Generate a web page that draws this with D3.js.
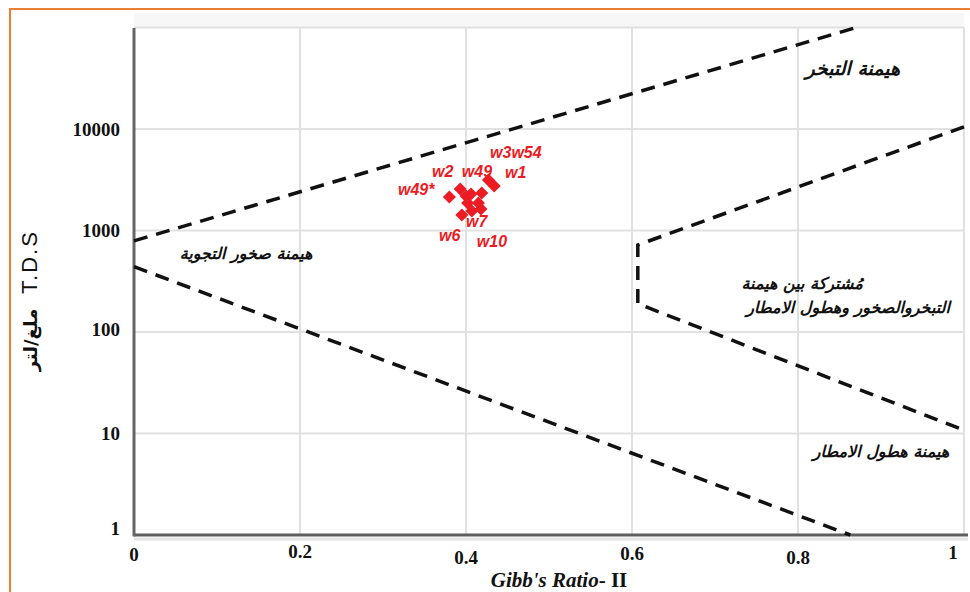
<!DOCTYPE html>
<html><head><meta charset="utf-8">
<script src="https://cdn.jsdelivr.net/npm/d3@7"></script>
<style>body{margin:0;background:#fff}svg{display:block}</style>
</head><body><svg id="c" width="970" height="592"></svg>
<script>
// ---- data ----
const xTicks = [0, 0.2, 0.4, 0.6, 0.8, 1];
const xTickLabels = ["0", "0.2", "0.4", "0.6", "0.8", "1"];
const yTicks = [1, 10, 100, 1000, 10000];
const yTickLabels = ["1", "10", "100", "1000", "10000"];

// Gibbs ratio II and TDS (mg/L) of the samples
const sampleRatio = [0.380, 0.393, 0.400, 0.406, 0.419, 0.427, 0.434, 0.402, 0.415, 0.395, 0.407, 0.418];
const sampleTDS   = [2140, 2560, 2190, 2290, 2340, 3150, 2740, 1870, 1870, 1420, 1560, 1630];

const pointLabels = ["w3w54", "w2", "w49", "w1", "w49*", "w7", "w6", "w10"];
const labelRatio  = [0.429, 0.359, 0.395, 0.447, 0.318, 0.400, 0.3675, 0.413];
const labelTDS    = [5180, 3370, 3370, 3290, 2240, 1082, 788, 687];

// Gibbs boundary curves [ratio, TDS]
const upperBoundary = [[0, 790], [0.87, 100000]];
const lowerBoundary = [[0, 440], [0.863, 1]];
const rightBoundary = [[1, 10500], [0.607, 720], [0.607, 190], [1, 10.8]];

const zoneLines = [["هيمنة التبخر"], ["هيمنة صخور التجوية"], ["مُشتركة بين هيمنة", "التبخروالصخور وهطول الامطار"], ["هيمنة هطول الامطار"]];
const zoneRatio = [0.866, 0.135, 0.805, 0.90];
const zoneTDS   = [40000, 590, 300, 6.7];

const xTitleItalic = "Gibb's Ratio";
const xTitleRest = "- II";
const yTitleLatin = "T.D.S";
const yTitleArabic = "ملغ/لتر";

// ---- layout ----
const svg = d3.select("#c");
const L = 134, R = 964, T = 27.5, B = 535;
const x = d3.scaleLinear().domain([0, 1]).range([L, R]);
const y = d3.scaleLog().domain([1, 100000]).range([B, T]);

// orange frame
svg.append("rect").attr("x", 10).attr("y", 9).attr("width", 1000).attr("height", 700)
  .attr("fill", "none").attr("stroke", "#ed7d31").attr("stroke-width", 2);

// faint shading above plot
svg.append("rect").attr("x", L).attr("y", 13).attr("width", R - L).attr("height", T - 13)
  .attr("fill", "#f7f7f7");
svg.append("rect").attr("x", L).attr("y", T).attr("width", R - L).attr("height", B - T).attr("fill", "#fff");

// grid
const grid = svg.append("g").attr("stroke", "#e1e1e1").attr("stroke-width", 2);
grid.selectAll(".gy").data(yTicks.slice(1).concat([100000])).join("line")
  .attr("x1", L).attr("x2", R).attr("y1", d => y(d)).attr("y2", d => y(d));
grid.selectAll(".gx").data(xTicks.slice(1)).join("line")
  .attr("x1", d => x(d)).attr("x2", d => x(d)).attr("y1", T).attr("y2", B);

// axes lines
svg.append("line").attr("x1", L).attr("x2", 968).attr("y1", B + 4).attr("y2", B + 4)
  .attr("stroke", "#e4e4e4").attr("stroke-width", 3);
svg.append("line").attr("x1", L).attr("x2", 968).attr("y1", B).attr("y2", B)
  .attr("stroke", "#5e5e5e").attr("stroke-width", 3);
svg.append("line").attr("x1", L).attr("x2", L).attr("y1", 28).attr("y2", B + 1.5)
  .attr("stroke", "#666").attr("stroke-width", 3);

// boundaries
const line = d3.line().x(d => x(d[0])).y(d => y(d[1]));
svg.append("g").selectAll("path").data([upperBoundary, lowerBoundary, rightBoundary]).join("path")
  .attr("d", line).attr("fill", "none").attr("stroke", "#111").attr("stroke-width", 3.5)
  .attr("stroke-dasharray", "14,9");

// tick labels
const tickFont = "'Liberation Serif', 'Times New Roman', serif";
const yLabelShift = [-7, 0, -3, 0, 0];
svg.append("g").selectAll("text").data(yTicks).join("text")
  .attr("x", 120).attr("y", (d, i) => y(d) + yLabelShift[i]).attr("dy", "0.35em")
  .attr("text-anchor", "end").attr("font-family", tickFont).attr("font-weight", "bold")
  .attr("font-size", 19).attr("fill", "#111")
  .text((d, i) => yTickLabels[i]);
const xLabelShift = [0, -3, 3, -1, 3, -2];
svg.append("g").selectAll("text").data(xTicks).join("text")
  .attr("x", d => d === 1 ? x(d) - 11 : x(d))
  .attr("y", (d, i) => 561 + xLabelShift[i])
  .attr("text-anchor", "middle").attr("font-family", tickFont).attr("font-weight", "bold")
  .attr("font-size", 19).attr("fill", "#111")
  .text((d, i) => xTickLabels[i]);

// axis titles
const xt = svg.append("text").attr("x", 559).attr("y", 587).attr("text-anchor", "middle")
  .attr("font-family", tickFont).attr("font-size", 21).attr("font-weight", "bold").attr("fill", "#111");
xt.append("tspan").attr("font-style", "italic").text(xTitleItalic);
xt.append("tspan").text(xTitleRest);

svg.append("text").attr("transform", "translate(37,262) rotate(-90)")
  .attr("text-anchor", "middle").attr("font-family", "'Liberation Sans', Arial, sans-serif")
  .attr("font-size", 22).attr("letter-spacing", 2).attr("fill", "#111").text(yTitleLatin);
svg.append("text").attr("transform", "translate(37,340) rotate(-90)")
  .attr("text-anchor", "middle").attr("font-family", "'DejaVu Sans', sans-serif").attr("font-weight", "bold")
  .attr("font-size", 18).attr("fill", "#111").text(yTitleArabic);

// zone annotations
const zoneSize = [19, 16, 16, 16];
const zg = svg.append("g").attr("font-family", "'DejaVu Sans', sans-serif").attr("font-weight", "bold")
  .attr("font-style", "italic").attr("fill", "#111").attr("text-anchor", "middle");
zoneLines.forEach((lines, i) => {
  lines.forEach((t, j) => {
    zg.append("text").attr("x", x(zoneRatio[i]) + (j === 1 ? 46 : 0))
      .attr("y", y(zoneTDS[i]) + j * 24).attr("dy", "0.35em")
      .attr("font-size", zoneSize[i]).text(t);
  });
});

// samples
const red = "#ec1c24";
svg.append("g").selectAll("path").data(sampleRatio).join("path")
  .attr("d", d3.symbol(d3.symbolSquare, 85))
  .attr("transform", (d, i) => `translate(${x(d)},${y(sampleTDS[i])}) rotate(45)`)
  .attr("fill", red);

svg.append("g").selectAll("text").data(pointLabels).join("text")
  .attr("x", (d, i) => x(labelRatio[i])).attr("y", (d, i) => y(labelTDS[i]))
  .attr("font-family", "'Liberation Sans', Arial, sans-serif").attr("font-weight", "bold")
  .attr("font-style", "italic").attr("font-size", 16).attr("fill", red)
  .text(d => d);
</script></body></html>
